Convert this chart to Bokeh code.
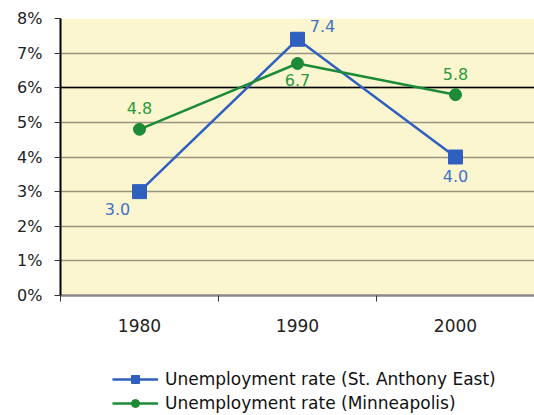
from bokeh.plotting import figure
from bokeh.layouts import column
from bokeh.models import (ColumnDataSource, FixedTicker, PrintfTickFormatter, Legend,
                          LegendItem, Grid, Range1d)
from bokeh.core.properties import value
from bokeh.embed import file_html
from bokeh.resources import INLINE

years = ["1980", "1990", "2000"]
st_anthony = [3.0, 7.4, 4.0]
minneapolis = [4.8, 6.7, 5.8]
y_ticks = [0, 1, 2, 3, 4, 5, 6, 7, 8]
series_names = ["Unemployment rate (St. Anthony East)", "Unemployment rate (Minneapolis)"]

FONT = "DejaVu Sans"
BLUE = "#2F5FBF"
BLUE_TXT = "#3F72C4"
GREEN = "#1D8A38"
GREEN_TXT = "#2A9A3C"

xpos = [i + 0.5 for i in range(len(years))]

p = figure(frame_width=474, frame_height=277, output_backend="svg", toolbar_location=None,
           x_range=Range1d(0, len(years)), y_range=Range1d(0, 8),
           min_border_left=60, min_border_top=18, min_border_right=0,
           min_border_bottom=50)
p.border_fill_color = "white"
p.outline_line_color = None
p.background_fill_color = "#FBF6D0"

# grids
p.xgrid.grid_line_color = None
p.ygrid.ticker = FixedTicker(ticks=y_ticks)
p.ygrid.grid_line_color = "#9A9580"
p.ygrid.grid_line_width = 1.5
g6 = Grid(dimension=1, ticker=FixedTicker(ticks=[6]), grid_line_color="black",
          grid_line_width=1.5)
p.add_layout(g6)

# y axis
p.yaxis.ticker = FixedTicker(ticks=y_ticks)
p.yaxis.formatter = PrintfTickFormatter(format="%d%%")
p.yaxis.axis_line_color = "black"
p.yaxis.axis_line_width = 2
p.yaxis.major_tick_line_color = "#333333"
p.yaxis.major_tick_out = 6
p.yaxis.major_tick_in = 0
p.yaxis.minor_tick_line_color = None
p.yaxis.major_label_text_font = FONT
p.yaxis.major_label_text_font_size = "16px"
p.yaxis.major_label_text_color = "#222222"
p.yaxis.major_label_standoff = 12

# x axis
p.xaxis.ticker = FixedTicker(ticks=xpos, minor_ticks=list(range(len(years) + 1)))
p.xaxis.major_label_overrides = {x: y for x, y in zip(xpos, years)}
p.xaxis.axis_line_color = "#8A8A8A"
p.xaxis.axis_line_width = 2.5
p.xaxis.major_tick_line_color = None
p.xaxis.minor_tick_line_color = "#333333"
p.xaxis.minor_tick_out = 6
p.xaxis.minor_tick_in = 0
p.xaxis.major_label_text_font = FONT
p.xaxis.major_label_text_font_size = "17px"
p.xaxis.major_label_text_color = "#222222"
p.xaxis.major_label_standoff = 17

src_a = ColumnDataSource(dict(x=xpos, y=st_anthony, t=[f"{v:.1f}" for v in st_anthony]))
src_m = ColumnDataSource(dict(x=xpos, y=minneapolis, t=[f"{v:.1f}" for v in minneapolis]))

p.line("x", "y", source=src_a, line_color=BLUE, line_width=2.5)
p.scatter("x", "y", source=src_a, marker="square", size=14, fill_color=BLUE,
          line_color=BLUE)
p.line("x", "y", source=src_m, line_color=GREEN, line_width=2.5)
p.scatter("x", "y", source=src_m, marker="circle", size=12, fill_color=GREEN,
          line_color=GREEN)

# data labels (screen offsets, positive = down)
src_a.data["dx"] = [-22, 25, 0]
src_a.data["dy"] = [17, -13, 19]
src_m.data["dx"] = [0, 0, 0]
src_m.data["dy"] = [-21, 16, -21]
p.text("x", "y", text="t", source=src_a, x_offset="dx", y_offset="dy",
       text_font=value(FONT), text_font_size="16px", text_color=BLUE_TXT,
       text_align="center", text_baseline="middle")
p.text("x", "y", text="t", source=src_m, x_offset="dx", y_offset="dy",
       text_font=value(FONT), text_font_size="16px", text_color=GREEN_TXT,
       text_align="center", text_baseline="middle")

# legend strip: same series drawn outside its visible range, only the legend shows
p2 = figure(frame_width=534, frame_height=70, output_backend="svg", toolbar_location=None,
            x_range=Range1d(0, len(years)), y_range=Range1d(-2, -1),
            x_axis_location=None, y_axis_location=None,
            min_border_left=0, min_border_right=0, min_border_top=0, min_border_bottom=0)
p2.outline_line_color = None
p2.grid.grid_line_color = None
la = p2.line("x", "y", source=src_a, line_color=BLUE, line_width=2.5)
ma = p2.scatter("x", "y", source=src_a, marker="square", size=12, fill_color=BLUE,
                line_color=BLUE)
lm = p2.line("x", "y", source=src_m, line_color=GREEN, line_width=2.5)
mm = p2.scatter("x", "y", source=src_m, marker="circle", size=10, fill_color=GREEN,
                line_color=GREEN)

legend = Legend(items=[
    LegendItem(label=series_names[0], renderers=[la, ma]),
    LegendItem(label=series_names[1], renderers=[lm, mm]),
], location=(112, 2))
legend.label_text_font = FONT
legend.label_text_font_size = "17px"
legend.label_text_color = "#111111"
legend.glyph_width = 46
legend.glyph_height = 20
legend.label_height = 20
legend.label_standoff = 7
legend.spacing = 4
legend.border_line_color = None
legend.background_fill_alpha = 0
legend.padding = 3
legend.margin = 0
p2.add_layout(legend)

open("out.html", "w").write(file_html(column(p, p2, spacing=0), INLINE))
